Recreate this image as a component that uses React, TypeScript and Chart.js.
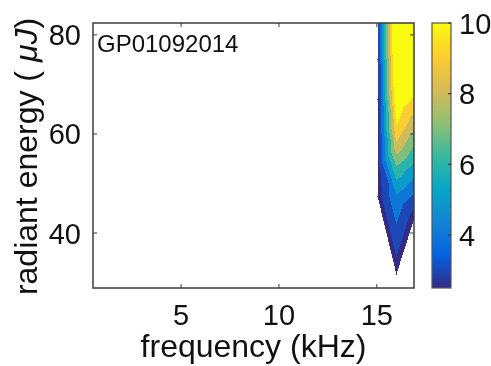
import React, { useEffect, useRef } from "react";
import { Chart, registerables } from "chart.js";

Chart.register(...registerables);

// ---- axis / tick data ----
const xTicks = [5, 10, 15];
const yTicks = [40, 60, 80];
const colorbarTicks = [4, 6, 8, 10];
const xMin = 0.5;
const xMax = 16.9;
const yMin = 28.9;
const yMax = 82.4;
const colorMin = 2.5;
const colorMax = 10;
const contourLevels = [3, 4, 5, 6, 7, 8, 9, 10];

const xLabel = "frequency (kHz)";
const yLabelMain = "radiant energy ( ";
const yLabelUnit = "μJ";
const yLabelEnd = ")";
const annotation = "GP01092014";

// ---- measured field: columns of (energy, value) at each frequency ----
const columnFreqs = [15.06, 16.0, 16.9];
const leftEnergies = [47.3, 53, 60, 67, 75, 82.4];
const leftValues = [2.5, 2.6, 2.7, 2.75, 2.8, 2.8];
const midEnergies = [31.9, 43, 47.3, 53, 58, 62, 67, 72, 77, 82.4];
const midValues = [2.5, 4.2, 4.9, 6.8, 8.9, 10.1, 11.0, 11.6, 12, 12];
const rightEnergies = [43, 48, 53, 58, 62.5, 67.5, 72, 77, 82.4];
const rightValues = [2.5, 4.0, 5.6, 7.1, 8.5, 10.0, 11, 12, 12];

const columnEnergies = [leftEnergies, midEnergies, rightEnergies];
const columnValues = [leftValues, midValues, rightValues];

const parulaStops: [number, string][] = [
  [0, "#352A87"],
  [0.125, "#0363E1"],
  [0.25, "#1485D4"],
  [0.375, "#06A7C6"],
  [0.5, "#38B99E"],
  [0.625, "#92BF73"],
  [0.75, "#D9BA56"],
  [0.875, "#FCCE2E"],
  [1, "#F9FB0E"],
];

function hexToRgb(h: string) {
  const n = parseInt(h.slice(1), 16);
  return [(n >> 16) & 255, (n >> 8) & 255, n & 255];
}

function parula(t: number) {
  t = Math.max(0, Math.min(1, t));
  for (let i = 0; i < parulaStops.length - 1; i++) {
    const [t0, c0] = parulaStops[i];
    const [t1, c1] = parulaStops[i + 1];
    if (t <= t1) {
      const f = (t - t0) / (t1 - t0);
      const a = hexToRgb(c0);
      const b = hexToRgb(c1);
      return [0, 1, 2].map((k) => Math.round(a[k] + (b[k] - a[k]) * f));
    }
  }
  return hexToRgb(parulaStops[parulaStops.length - 1][1]);
}

function bandColor(v: number) {
  let lvl = colorMin;
  for (const l of contourLevels) if (v >= l) lvl = l;
  return parula((lvl - colorMin) / (colorMax - colorMin));
}

type Vtx = { f: number; e: number; v: number };

function buildTriangles(): Vtx[][] {
  const tris: Vtx[][] = [];
  for (let c = 0; c < columnFreqs.length - 1; c++) {
    const a: Vtx[] = columnEnergies[c].map((e, i) => ({ f: columnFreqs[c], e, v: columnValues[c][i] }));
    const b: Vtx[] = columnEnergies[c + 1].map((e, i) => ({ f: columnFreqs[c + 1], e, v: columnValues[c + 1][i] }));
    let i = 0;
    let j = 0;
    while (i < a.length - 1 || j < b.length - 1) {
      if (j === b.length - 1 || (i < a.length - 1 && a[i + 1].e <= b[j + 1].e)) {
        tris.push([a[i], a[i + 1], b[j]]);
        i++;
      } else {
        tris.push([a[i], b[j], b[j + 1]]);
        j++;
      }
    }
  }
  return tris;
}

const FONT = "'Liberation Sans', Arial, sans-serif";

const drawPlugin = {
  id: "contourDraw",
  afterDraw(chart: any) {
    const ctx: CanvasRenderingContext2D = chart.ctx;
    const area = chart.chartArea;
    const xs = chart.scales.x;
    const ys = chart.scales.y;
    const cs = chart.scales.cb;

    // --- filled contour ---
    const w = Math.round(area.right - area.left);
    const h = Math.round(area.bottom - area.top);
    const off = document.createElement("canvas");
    off.width = w;
    off.height = h;
    const octx = off.getContext("2d")!;
    const img = octx.createImageData(w, h);
    const tris = buildTriangles();
    for (const tri of tris) {
      const p = tri.map((q) => ({
        x: xs.getPixelForValue(q.f) - area.left,
        y: ys.getPixelForValue(q.e) - area.top,
        v: q.v,
      }));
      const minX = Math.max(0, Math.floor(Math.min(p[0].x, p[1].x, p[2].x)));
      const maxX = Math.min(w - 1, Math.ceil(Math.max(p[0].x, p[1].x, p[2].x)));
      const minY = Math.max(0, Math.floor(Math.min(p[0].y, p[1].y, p[2].y)));
      const maxY = Math.min(h - 1, Math.ceil(Math.max(p[0].y, p[1].y, p[2].y)));
      const den = (p[1].y - p[2].y) * (p[0].x - p[2].x) + (p[2].x - p[1].x) * (p[0].y - p[2].y);
      if (Math.abs(den) < 1e-9) continue;
      for (let py = minY; py <= maxY; py++) {
        for (let px = minX; px <= maxX; px++) {
          const X = px + 0.5;
          const Y = py + 0.5;
          const l1 = ((p[1].y - p[2].y) * (X - p[2].x) + (p[2].x - p[1].x) * (Y - p[2].y)) / den;
          const l2 = ((p[2].y - p[0].y) * (X - p[2].x) + (p[0].x - p[2].x) * (Y - p[2].y)) / den;
          const l3 = 1 - l1 - l2;
          const eps = -0.02;
          if (l1 < eps || l2 < eps || l3 < eps) continue;
          const v = l1 * p[0].v + l2 * p[1].v + l3 * p[2].v;
          const col = bandColor(v);
          const k = (py * w + px) * 4;
          img.data[k] = col[0];
          img.data[k + 1] = col[1];
          img.data[k + 2] = col[2];
          img.data[k + 3] = 255;
        }
      }
    }
    octx.putImageData(img, 0, 0);
    ctx.save();
    ctx.drawImage(off, Math.round(area.left), Math.round(area.top));
    ctx.restore();

    // --- axes box ---
    ctx.save();
    ctx.strokeStyle = "#3c3c3c";
    ctx.lineWidth = 1.5;
    ctx.strokeRect(area.left, area.top, area.right - area.left, area.bottom - area.top);

    // ticks
    ctx.lineWidth = 1;
    ctx.beginPath();
    const tl = 4;
    for (const t of xTicks) {
      const x = xs.getPixelForValue(t);
      ctx.moveTo(x, area.bottom);
      ctx.lineTo(x, area.bottom - tl);
      ctx.moveTo(x, area.top);
      ctx.lineTo(x, area.top + tl);
    }
    for (const t of yTicks) {
      const y = ys.getPixelForValue(t);
      ctx.moveTo(area.left, y);
      ctx.lineTo(area.left + tl, y);
      ctx.moveTo(area.right, y);
      ctx.lineTo(area.right - tl, y);
    }
    ctx.stroke();

    // tick labels
    ctx.fillStyle = "#111";
    ctx.font = `29px ${FONT}`;
    ctx.textBaseline = "alphabetic";
    ctx.textAlign = "center";
    for (const t of xTicks) {
      ctx.fillText(String(t), xs.getPixelForValue(t), 325);
    }
    ctx.textAlign = "right";
    for (const t of yTicks) {
      ctx.fillText(String(t), area.left - 12, ys.getPixelForValue(t) + 10.5);
    }

    // x label
    ctx.font = `32px ${FONT}`;
    ctx.textAlign = "center";
    ctx.fillText(xLabel, (area.left + area.right) / 2, 357);

    // y label (rotated)
    ctx.save();
    ctx.translate(37, (area.top + area.bottom) / 2 + 1);
    ctx.rotate(-Math.PI / 2);
    const mainFont = `32px ${FONT}`;
    const unitFont = `italic 32px ${FONT}`;
    ctx.font = mainFont;
    const w1 = ctx.measureText(yLabelMain).width;
    const w3 = ctx.measureText(yLabelEnd).width;
    ctx.font = unitFont;
    const w2 = ctx.measureText(yLabelUnit).width;
    const total = w1 + w2 + w3;
    let cx = -total / 2;
    ctx.textAlign = "left";
    ctx.font = mainFont;
    ctx.fillText(yLabelMain, cx, 0);
    cx += w1;
    ctx.font = unitFont;
    ctx.fillText(yLabelUnit, cx, 0);
    cx += w2;
    ctx.font = mainFont;
    ctx.fillText(yLabelEnd, cx, 0);
    ctx.restore();

    // annotation
    ctx.font = `24px ${FONT}`;
    ctx.textAlign = "left";
    ctx.fillStyle = "#111";
    ctx.fillText(annotation, area.left + 4, 52);

    // --- colorbar ---
    const cbL = 432;
    const cbR = 451;
    const cbTop = cs.getPixelForValue(colorMax);
    const cbBot = cs.getPixelForValue(colorMin);
    const grad = ctx.createLinearGradient(0, cbBot, 0, cbTop);
    for (const [t, c] of parulaStops) grad.addColorStop(t, c);
    ctx.fillStyle = grad;
    ctx.fillRect(cbL, cbTop, cbR - cbL, cbBot - cbTop);
    ctx.strokeStyle = "#555";
    ctx.lineWidth = 1.2;
    ctx.strokeRect(cbL, cbTop, cbR - cbL, cbBot - cbTop);
    ctx.beginPath();
    ctx.strokeStyle = "#222";
    ctx.lineWidth = 1;
    for (const t of colorbarTicks) {
      const y = cs.getPixelForValue(t);
      ctx.moveTo(cbR, y);
      ctx.lineTo(cbR - 3, y);
    }
    ctx.stroke();
    ctx.fillStyle = "#111";
    ctx.font = `29px ${FONT}`;
    ctx.textAlign = "left";
    for (const t of colorbarTicks) {
      const y = cs.getPixelForValue(t);
      ctx.fillText(String(t), 459, y + 10.5);
    }
    ctx.restore();
  },
};

export default function App() {
  const ref = useRef<HTMLCanvasElement | null>(null);
  useEffect(() => {
    document.body.style.margin = "0";
    document.body.style.background = "#fff";
    if (!ref.current) return;
    const chart = new Chart(ref.current, {
      type: "scatter",
      data: { datasets: [{ data: [] }] },
      options: {
        animation: false,
        responsive: false,
        devicePixelRatio: 1,
        layout: { padding: { left: 93, top: 23, right: 77, bottom: 78 } },
        plugins: { legend: { display: false }, tooltip: { enabled: false } },
        scales: {
          x: { type: "linear", min: xMin, max: xMax, display: false },
          y: { type: "linear", min: yMin, max: yMax, display: false },
          cb: { type: "linear", axis: "y", position: "right", min: colorMin, max: colorMax, display: false },
        },
      },
      plugins: [drawPlugin],
    });
    return () => chart.destroy();
  }, []);
  return (
    <div style={{ width: 491, height: 366, background: "#fff" }}>
      <canvas ref={ref} width={491} height={366} style={{ display: "block" }} />
    </div>
  );
}
